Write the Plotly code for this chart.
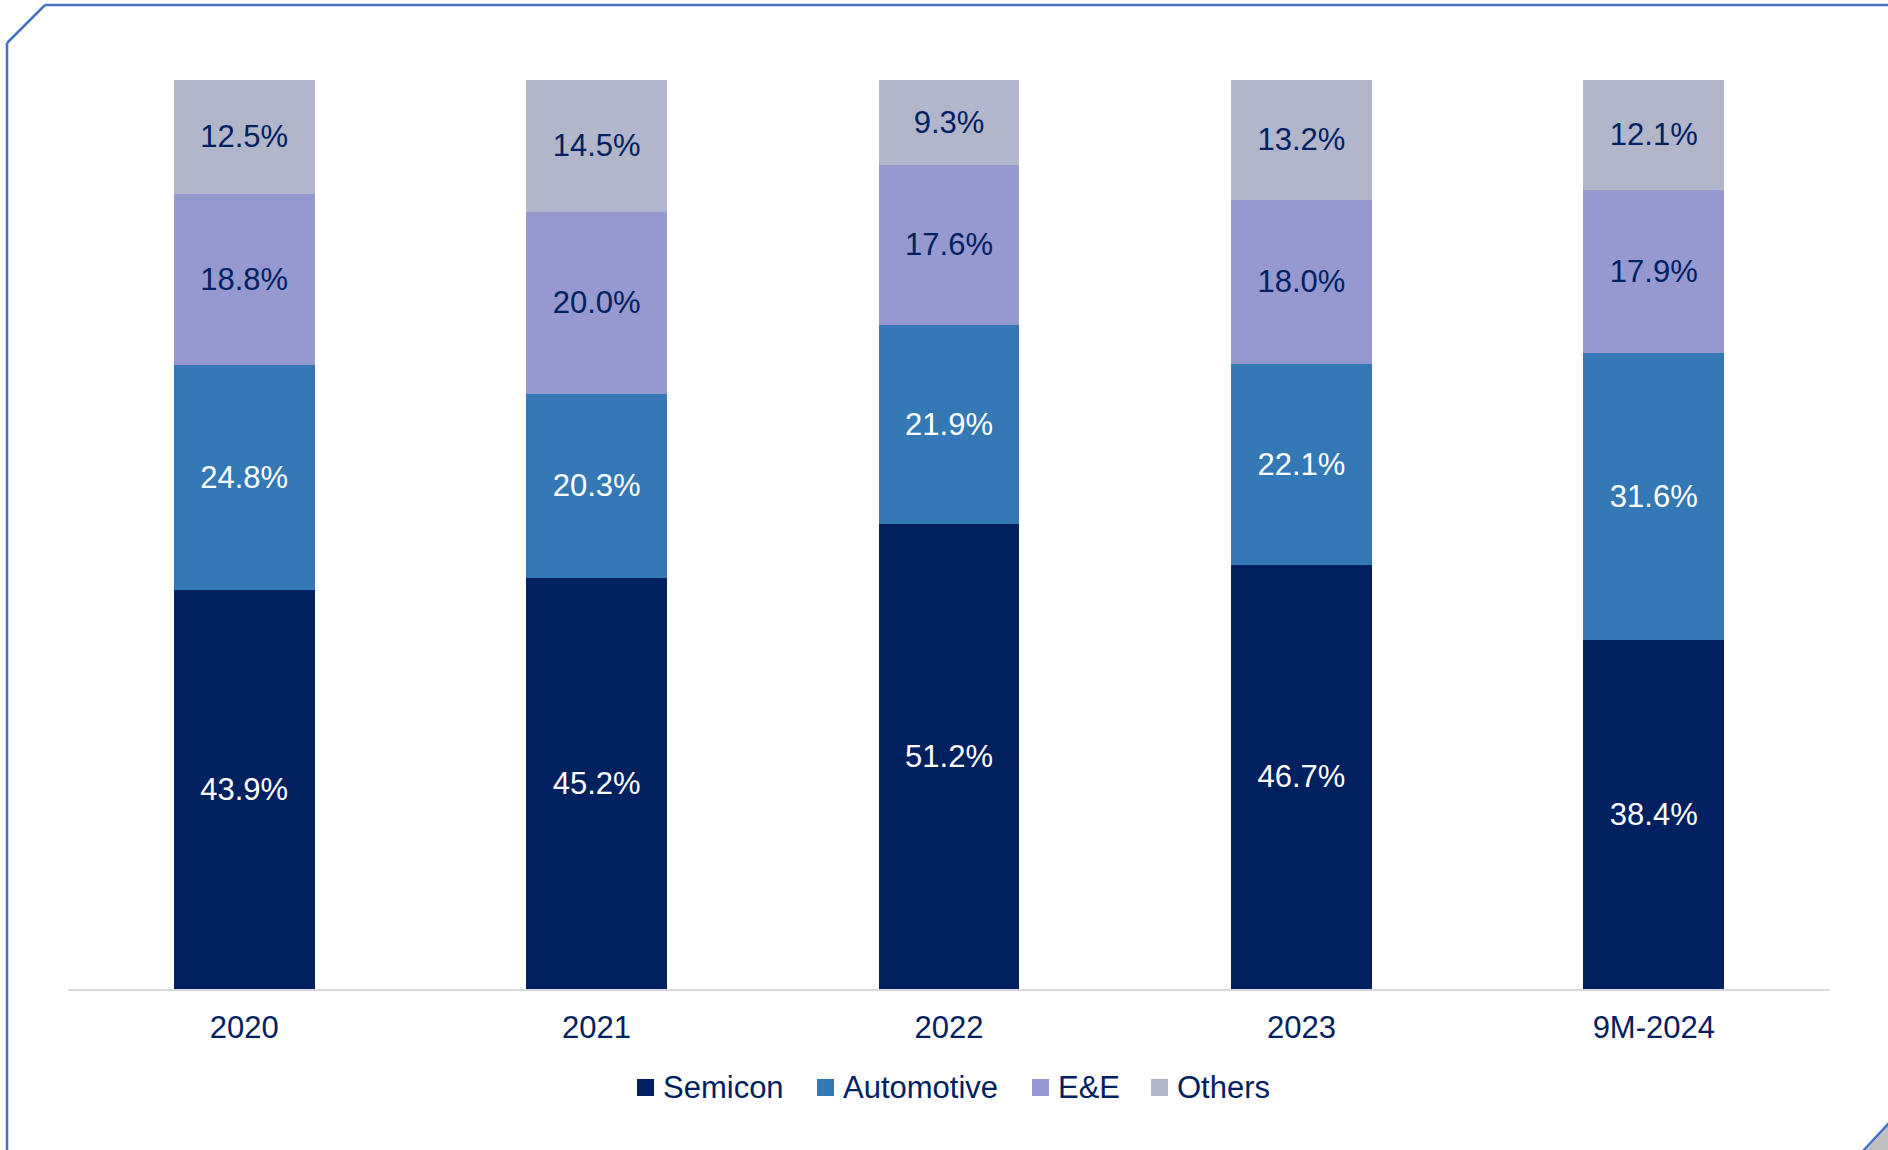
import plotly.graph_objects as go

categories = ["2020", "2021", "2022", "2023", "9M-2024"]
semicon = [43.9, 45.2, 51.2, 46.7, 38.4]
automotive = [24.8, 20.3, 21.9, 22.1, 31.6]
ee = [18.8, 20.0, 17.6, 18.0, 17.9]
others = [12.5, 14.5, 9.3, 13.2, 12.1]

series_names = ["Semicon", "Automotive", "E&E", "Others"]
series_values = [semicon, automotive, ee, others]
series_colors = ["#002060", "#3478B5", "#9599CF", "#B1B6CB"]
text_colors = ["#FFFFFF", "#FFFFFF", "#002060", "#002060"]

W, H = 1888, 1150
L, R, T, B = 68, 58, 80, 161
PW, PH = W - L - R, H - T - B
FONT = "Liberation Sans, Arial, sans-serif"

def px(x):
    return (x - L) / PW

def py(y):
    return (H - B - y) / PH

fig = go.Figure()
for name, vals, color, tcolor in zip(series_names, series_values, series_colors, text_colors):
    fig.add_trace(go.Bar(
        name=name, x=categories, y=vals,
        marker=dict(color=color, line=dict(width=0)),
        texttemplate="%{y:.1f}%", textposition="inside",
        insidetextanchor="middle", textangle=0,
        constraintext="none",
        insidetextfont=dict(family=FONT, size=31, color=tcolor),
        hoverinfo="skip", showlegend=False,
    ))

frame = "#4472C4"
shapes = [
    dict(type="line", xref="paper", yref="paper", x0=px(45), y0=py(5), x1=px(W + 5), y1=py(5),
         line=dict(color=frame, width=2.5)),
    dict(type="line", xref="paper", yref="paper", x0=px(45), y0=py(5), x1=px(7), y1=py(43),
         line=dict(color=frame, width=2.5)),
    dict(type="line", xref="paper", yref="paper", x0=px(7), y0=py(43), x1=px(7), y1=py(H + 5),
         line=dict(color=frame, width=2.5)),
    dict(type="path", xref="paper", yref="paper",
         path=f"M {px(1866)},{py(H)} L {px(W)},{py(1126)} L {px(W)},{py(H)} Z",
         fillcolor="#BFBFBF", line=dict(width=0)),
    dict(type="line", xref="paper", yref="paper", x0=px(1863), y0=py(H + 1), x1=px(W + 1), y1=py(1123),
         line=dict(color=frame, width=2.5)),
]

# legend drawn as squares + text labels
legend_square_x = [637, 817, 1032, 1151]
annotations = []
for name, color, sx in zip(series_names, series_colors, legend_square_x):
    shapes.append(dict(type="rect", xref="paper", yref="paper",
                       x0=px(sx), x1=px(sx + 17), y0=py(1096), y1=py(1079),
                       fillcolor=color, line=dict(width=0)))
    annotations.append(dict(text=name, xref="paper", yref="paper",
                            x=px(sx + 25), y=py(1087.5), xanchor="left", yanchor="middle",
                            showarrow=False, borderpad=0,
                            font=dict(family=FONT, size=31, color="#002060")))

fig.update_layout(
    width=W, height=H,
    barmode="stack", bargap=0.6,
    margin=dict(l=L, r=R, t=T, b=B),
    paper_bgcolor="white", plot_bgcolor="white",
    font=dict(family=FONT, color="#002060"),
    xaxis=dict(showline=True, linecolor="#D9D9D9", linewidth=2, ticks="",
               ticklabelstandoff=10,
               tickfont=dict(family=FONT, size=31, color="#002060"), showgrid=False, fixedrange=True),
    yaxis=dict(range=[0, 100], visible=False, showgrid=False, fixedrange=True),
    showlegend=False,
    shapes=shapes,
    annotations=annotations,
)

fig.write_html("out.html", config={"displayModeBar": False})
